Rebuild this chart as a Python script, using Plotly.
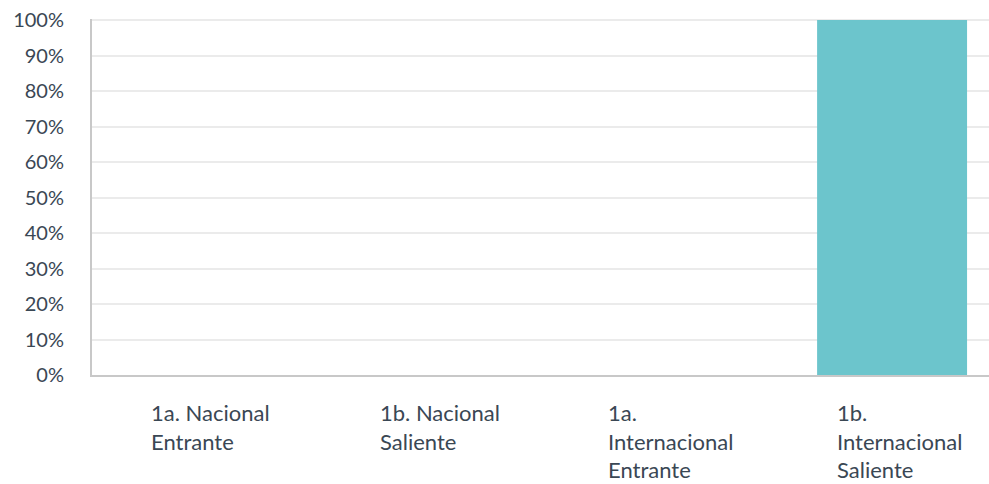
import plotly.graph_objects as go

categories = ["1a. Nacional Entrante", "1b. Nacional Saliente", "1a. Internacional Entrante", "1b. Internacional Saliente"]
label_lines = [["1a. Nacional", "Entrante"], ["1b. Nacional", "Saliente"], ["1a.", "Internacional", "Entrante"], ["1b.", "Internacional", "Saliente"]]
values = [0, 0, 0, 1.0]
y_ticks = [i / 10 for i in range(11)]
y_ticktext = [f"{i*10}%" for i in range(11)]

text_color = "#3a4754"

fig = go.Figure()
fig.add_trace(go.Bar(x=categories, y=values, marker=dict(color="#6cc5cc", line=dict(width=0)), width=0.656))

for cat, lines in zip(categories, label_lines):
    fig.add_annotation(x=cat, y=0, xref="x", yref="paper", yanchor="top", xanchor="left", xshift=-57,
                       yshift=-22, align="left", showarrow=False, text="<br>".join(lines),
                       font=dict(family="Lato", size=22, color=text_color))

fig.update_layout(
    width=989, height=484, margin=dict(l=92, r=0, t=19, b=109),
    plot_bgcolor="white", paper_bgcolor="white", showlegend=False,
    xaxis=dict(type="category", range=[-0.5, 3.424], showticklabels=False, showgrid=False, automargin=False,
               showline=True, linecolor="#c8c8c8", linewidth=2, zeroline=False),
    yaxis=dict(range=[0, 1.003], tickvals=y_ticks, ticktext=y_ticktext, showgrid=True, gridcolor="#ebebeb",
               gridwidth=2, showline=True, linecolor="#c8c8c8", linewidth=2, zeroline=False, automargin=False,
               ticklabelstandoff=22, tickfont=dict(family="Lato", size=20, color=text_color)),
)
fig.write_html("out.html", config={"displayModeBar": False},
               post_script="document.body.style.margin='0';document.body.style.overflow='hidden';")
